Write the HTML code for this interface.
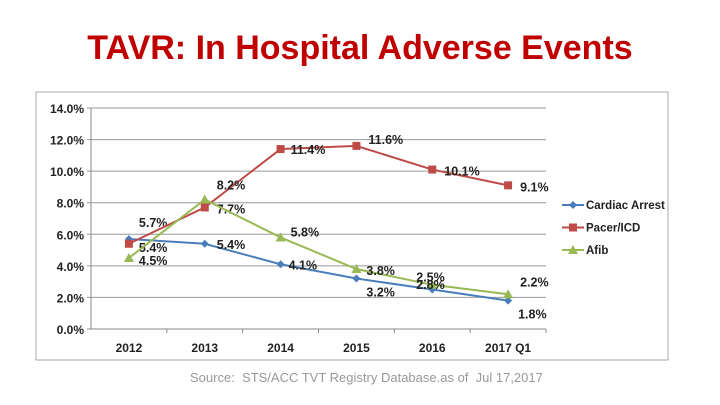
<!DOCTYPE html>
<html><head><meta charset="utf-8"><style>
body{margin:0;width:720px;height:405px;background:#fff;overflow:hidden;font-family:"Liberation Sans",sans-serif}
#title{position:absolute;left:0;top:29px;width:720px;text-align:center;font-size:34px;font-weight:bold;color:#c00000}
#src{position:absolute;left:190px;top:370px;font-size:13px;color:#999}
svg{position:absolute;left:0;top:0}
</style></head><body>
<div id="title">TAVR: In Hospital Adverse Events</div>
<svg id="c" width="720" height="405"></svg>
<div id="src">Source:&nbsp; STS/ACC TVT Registry Database.as of&nbsp; Jul 17,2017</div>
<script>
const categories=["2012","2013","2014","2015","2016","2017 Q1"];
const yTicks=[0,2,4,6,8,10,12,14];
const cardiac=[5.7,5.4,4.1,3.2,2.5,1.8];
const pacer=[5.4,7.7,11.4,11.6,10.1,9.1];
const afib=[4.5,8.2,5.8,3.8,2.8,2.2];
const seriesNames=["Cardiac Arrest","Pacer/ICD","Afib"];
const NS="http://www.w3.org/2000/svg";
const svg=document.getElementById('c');
const L=91,R=546,T=108,B=329,YMAX=14;
const x=i=>L+(R-L)/categories.length*(i+0.5);
const y=v=>B-(B-T)*v/YMAX;
function mk(t,a,p){const e=document.createElementNS(NS,t);for(const k in a)e.setAttribute(k,a[k]);(p||svg).appendChild(e);return e;}
let fr=mk('rect',{x:36,y:92,width:632,height:268,fill:'none',stroke:'#aaa'});


yTicks.forEach(v=>{
 const g=mk('line',{x1:L-4,x2:R,y1:y(v),y2:y(v),stroke:v===0?'#888':'#999','stroke-width':1});
 
 
 const t=mk('text',{x:L-7,y:y(v)+5,'text-anchor':'end','font-size':12,'font-weight':'bold',fill:'#222'});
 t.textContent=v.toFixed(1)+'%';
 
 
});
mk('line',{x1:L,x2:L,y1:T,y2:B,stroke:'#888'});
categories.forEach((c,i)=>{
 mk('line',{x1:L+(R-L)/6*(i+1),x2:L+(R-L)/6*(i+1),y1:B,y2:B+4,stroke:'#888'});
 const t=mk('text',{x:x(i),y:352,'text-anchor':'middle','font-size':12,'font-weight':'bold',fill:'#222'});
 t.textContent=c;
 
 
});
const colors=['#4a7ebb','#be4b48','#98b954'];
const data=[cardiac,pacer,afib];
const labOff=[[[10,-12],[12,5],[8,5],[10,18],[-16,-8],[10,18]],[[10,8],[12,6],[10,5],[12,-2],[12,6],[12,6]],[[10,7],[12,-10],[10,-1],[10,6],[-16,4],[12,-8]]];
function marker(k,cx,cy,p){
 let m;
 if(k===0)m=mk('path',{d:`M${cx} ${cy-4}L${cx+4} ${cy}L${cx} ${cy+4}L${cx-4} ${cy}Z`,fill:colors[0]},p);
 else if(k===1)m=mk('rect',{x:cx-4,y:cy-4,width:8,height:8,fill:colors[1]},p);
 else m=mk('path',{d:`M${cx} ${cy-5}L${cx+5} ${cy+4}L${cx-5} ${cy+4}Z`,fill:colors[2]},p);
 return m;
}
data.forEach((d,k)=>{
 const g=mk('g',{});
 
 
 mk('polyline',{points:d.map((v,i)=>x(i)+','+y(v)).join(' '),fill:'none',stroke:colors[k],'stroke-width':2},g);
 d.forEach((v,i)=>{
  const m=marker(k,x(i),y(v),g);
  
  
  const t=mk('text',{x:x(i)+labOff[k][i][0],y:y(v)+labOff[k][i][1],'font-size':12.5,'font-weight':'bold',fill:'#222'},g);
  t.textContent=v.toFixed(1)+'%';
  
  
 });
});
seriesNames.forEach((n,k)=>{
 const ly=205+k*22.5;
 const g=mk('g',{});
 
 
 mk('line',{x1:562,x2:584,y1:ly,y2:ly,stroke:colors[k],'stroke-width':2},g);
 marker(k,573,ly,g);
 const t=mk('text',{x:586,y:ly+4,'font-size':11.5,'font-weight':'bold',fill:'#222'},g);
 t.textContent=n;
});
</script>
</body></html>
